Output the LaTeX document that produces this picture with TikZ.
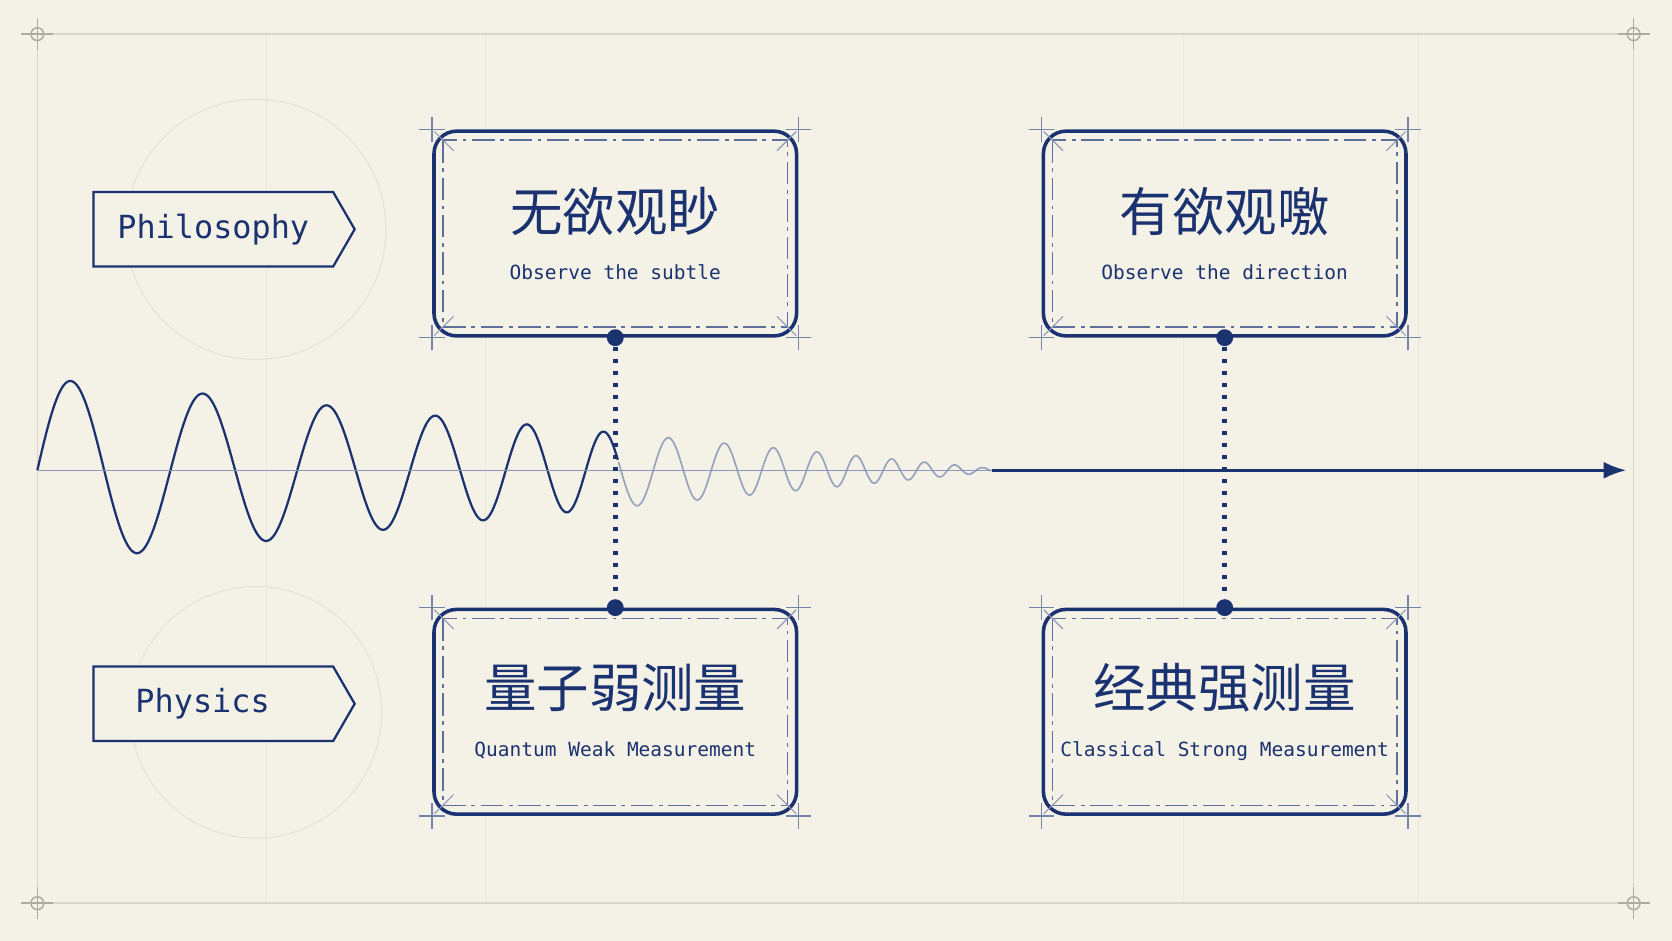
\documentclass[tikz,border=0pt]{standalone}
\usepackage{fontspec}
\setmonofont{DejaVu Sans Mono}
\newfontfamily\cjk{Noto Sans CJK SC}
\usetikzlibrary{positioning,arrows.meta,shapes.symbols}
\definecolor{paper}{HTML}{F4F1E6}
\definecolor{ink}{HTML}{1B3270}
\definecolor{faint}{HTML}{D9D6CC}
\tikzset{
  card/.style = {draw=ink, line width=0.95pt, rounded corners=6pt, inner sep=0pt, minimum width=3.4cm, minimum height=1.92cm, fill=paper, align=center, text=ink},
  tag/.style = {draw=ink, line width=0.6pt, signal, signal to=east, signal pointer angle=120, minimum width=2.45cm, minimum height=0.7cm, font=\ttfamily\fontsize{8.5}{10}\selectfont, text=ink, fill=paper},
  tick/.style = {draw=ink!60, line width=0.4pt},
  link/.style = {ink, line width=1.2pt, dotted},
  pin/.style = {circle, fill=ink, inner sep=0pt, minimum size=4.5pt}
}
\newcommand{\cardtext}[2]{\raisebox{-3pt}{\parbox{3.2cm}{\centering{\cjk\fontsize{14}{16}\selectfont #1}\\[1pt]{\ttfamily\fontsize{5.2}{6}\selectfont #2}}}}
\newcommand{\carddeco}[1]{%
  \draw[ink!70, line width=0.4pt, dash pattern=on 6pt off 1.5pt on 1pt off 1.5pt]
    ([shift={(0.1,-0.1)}]#1.north west) rectangle ([shift={(-0.1,0.1)}]#1.south east);
  \foreach \c/\dx/\dy in {north west/1/-1, north east/-1/-1, south west/1/1, south east/-1/1}{
    \draw[ink!50, line width=0.3pt] ([shift={(0.02*\dx,0.02*\dy)}]#1.\c) -- ([shift={(0.2*\dx,0.2*\dy)}]#1.\c);
    \draw[tick] ([shift={(0,-0.12*\dy)}]#1.\c) -- ([shift={(0,0.12*\dy)}]#1.\c);
    \draw[tick] ([shift={(-0.12*\dx,0)}]#1.\c) -- ([shift={(0.12*\dx,0)}]#1.\c);}}
\begin{document}
\begin{tikzpicture}
\fill[paper] (0,0) rectangle (15.68,8.82);
\useasboundingbox (0,0) rectangle (15.68,8.82);
% background grid
\foreach \x in {2.5,4.55,11.1,13.3}
  \draw[faint!60, line width=0.3pt] (\x,0.35) -- (\x,8.5);
\draw[faint, line width=0.4pt] (0.35,0.35) rectangle (15.32,8.5);
\foreach \p in {(0.35,0.35),(0.35,8.5),(15.32,0.35),(15.32,8.5)}{
  \draw[faint!80!black, line width=0.4pt] \p circle (0.06);
  \draw[faint!80!black, line width=0.4pt] \p ++(-0.15,0) -- ++(0.3,0) \p ++(0,-0.15) -- ++(0,0.3);}
\draw[faint!70, line width=0.3pt] (2.4,6.67) circle (1.22) (2.4,2.14) circle (1.18);
% wave and axis
\coordinate (wstart) at (0.35,4.41);
\coordinate (wend) at (9.3,4.41);
\coordinate (axend) at (15.25,4.41);
\draw[ink, line width=0.6pt, domain=0.35:5.8, samples=500, smooth]
  plot (\x,{4.41+(0.9-0.095*\x)*sin(deg(5*(\x-0.35)+0.00625*(\x*\x*\x*\x-0.015)))});
\draw[ink!45, line width=0.45pt, domain=5.8:9.3, samples=500, smooth]
  plot (\x,{4.41+max(0.9-0.095*\x,0.01)*sin(deg(5*(\x-0.35)+0.00625*(\x*\x*\x*\x-0.015)))});
\draw[ink!50, line width=0.3pt] (wstart) -- (wend);
\draw[ink, line width=0.7pt, -{Latex[length=6pt]}] (wend) -- (axend);
% tags
\node[tag] (philo) at (2.0,6.67) {Philosophy};
\node[tag] (phys) at (2.0,2.22) {\hspace{-0.2cm}Physics};
% cards
\node[card] (subtle) at (5.77,6.63) {\cardtext{无欲观眇}{Observe the subtle}};
\node[card] (direct) at (11.485,6.63) {\cardtext{有欲观噭}{Observe the direction}};
\node[card] (weak) at (5.77,2.145) {\cardtext{量子弱测量}{Quantum Weak Measurement}};
\node[card] (strong) at (11.485,2.145) {\cardtext{经典强测量}{Classical Strong Measurement}};
\carddeco{subtle}\carddeco{direct}\carddeco{weak}\carddeco{strong}
% links
\node[pin] (p1) at (subtle.south) {};
\node[pin] (p2) at (weak.north) {};
\node[pin] (p3) at (direct.south) {};
\node[pin] (p4) at (strong.north) {};
\draw[link] (p1) -- (p2);
\draw[link] (p3) -- (p4);
\end{tikzpicture}
\end{document}
